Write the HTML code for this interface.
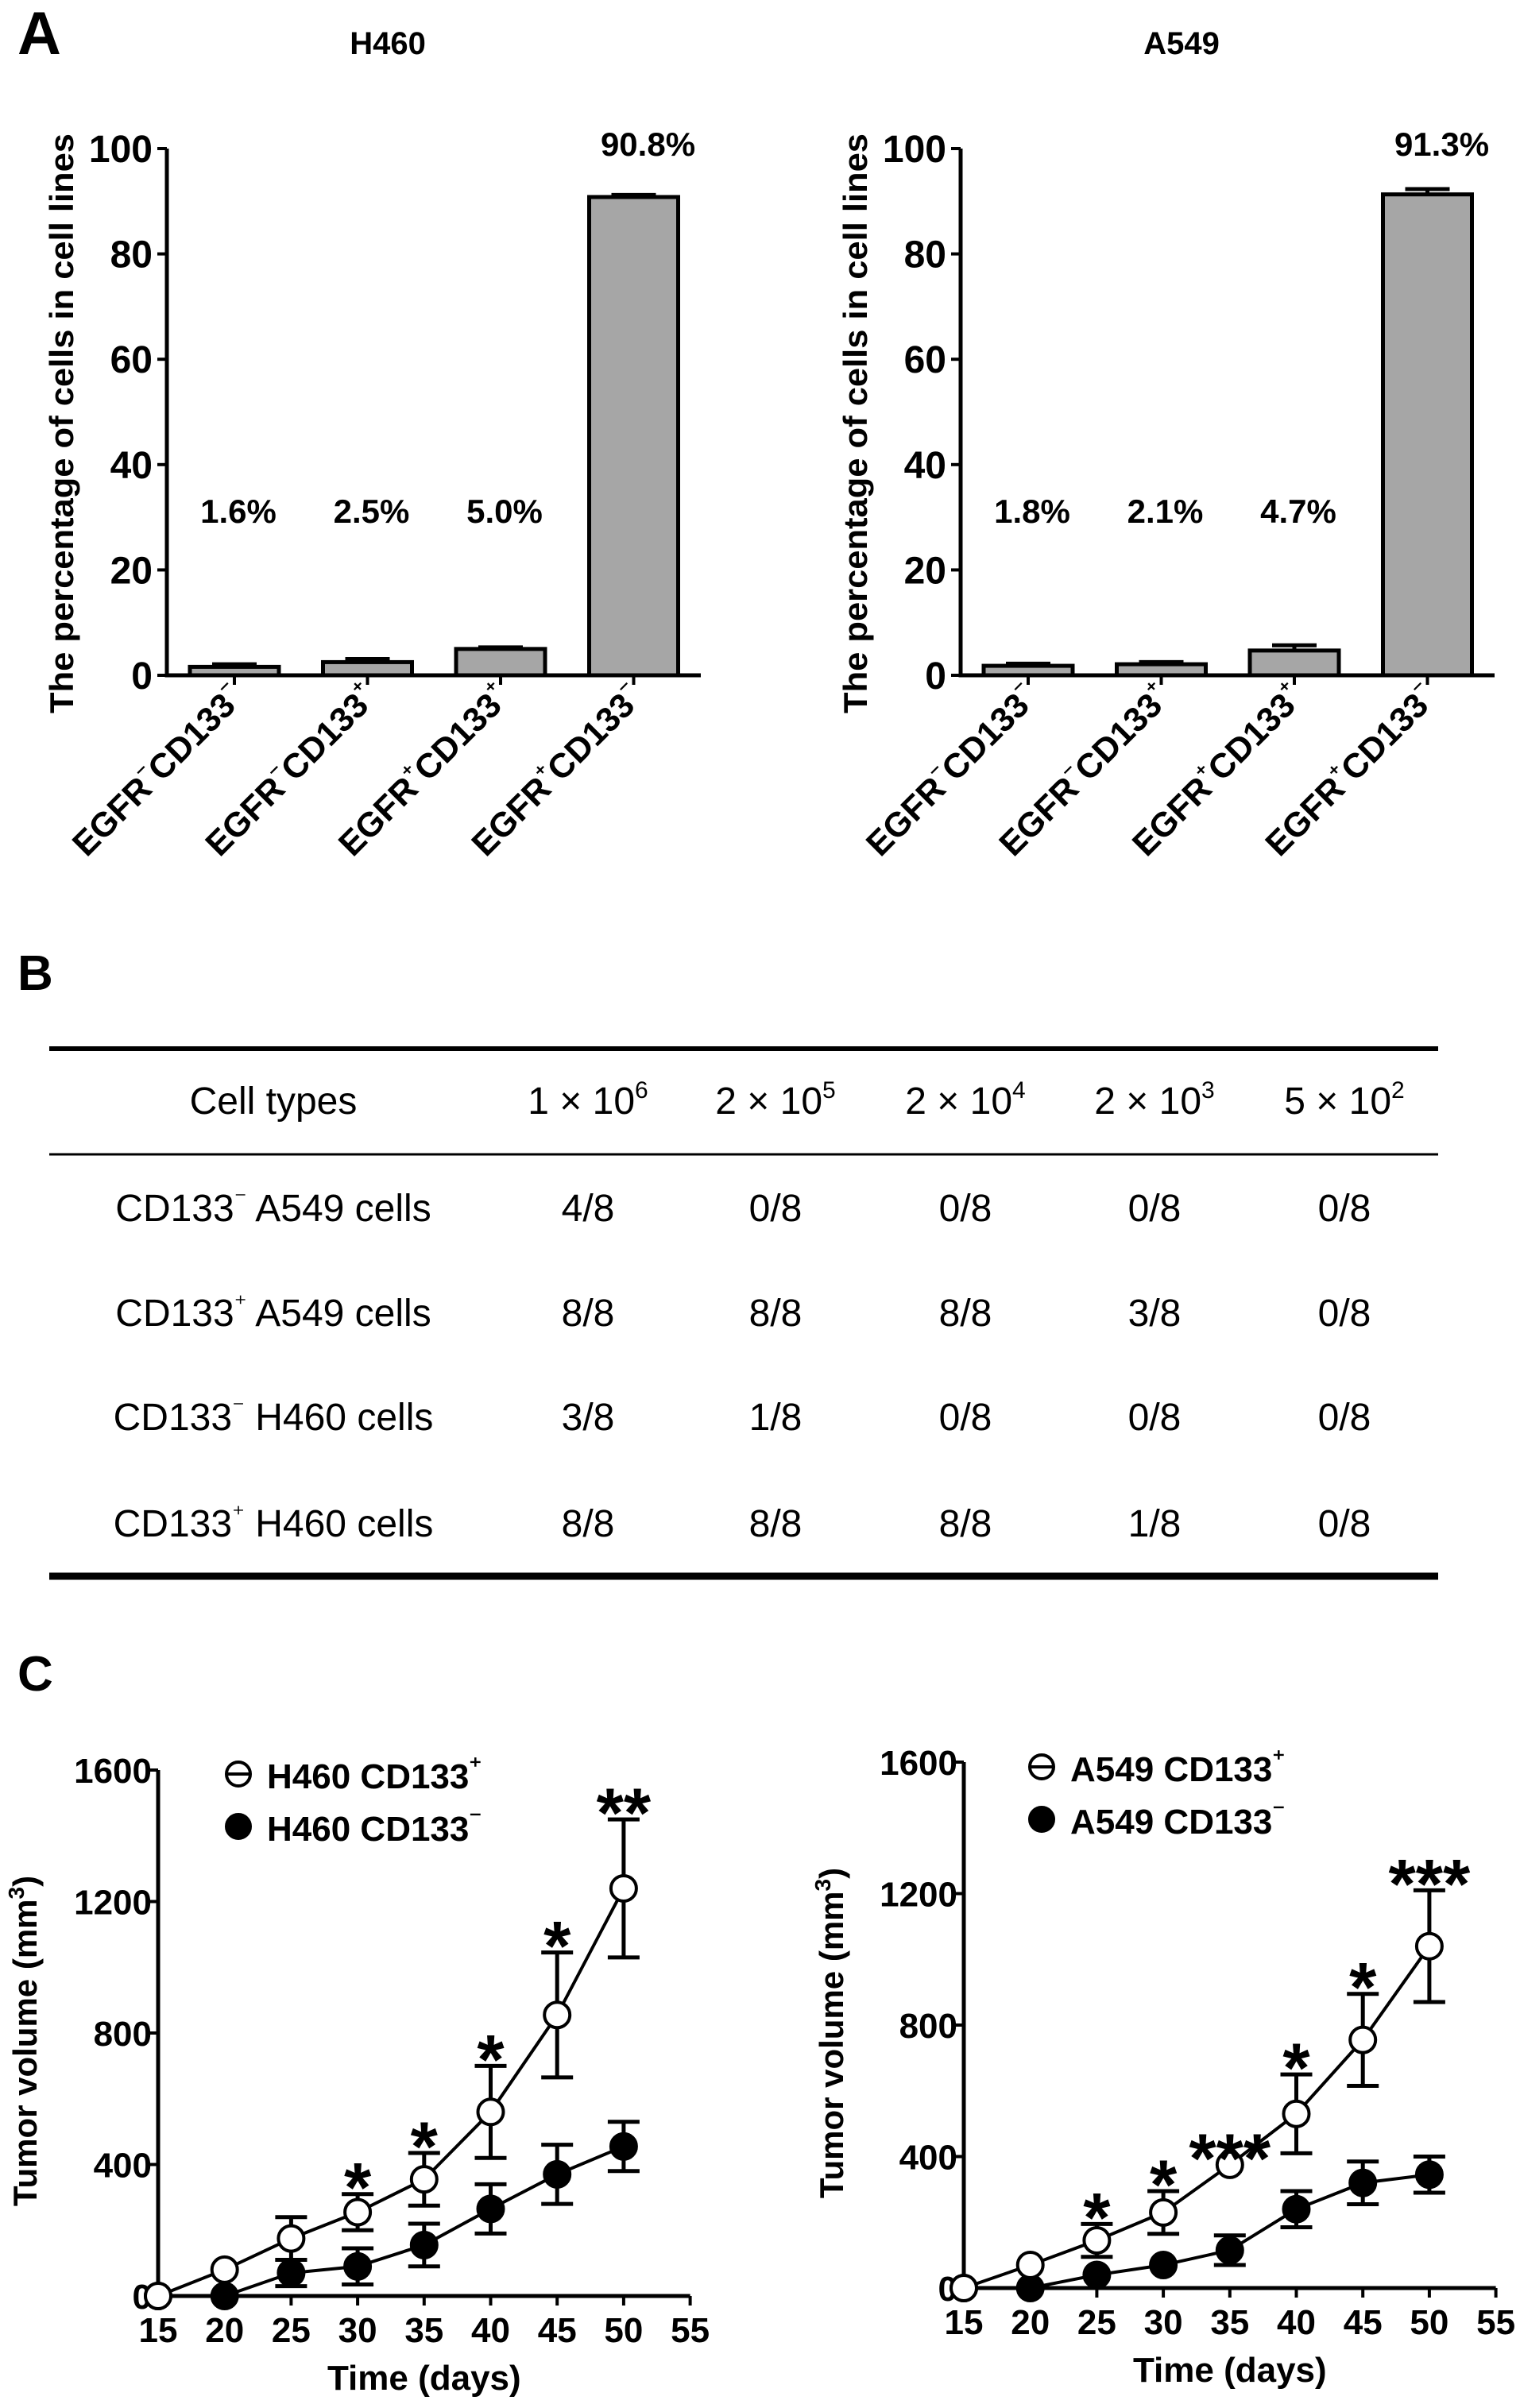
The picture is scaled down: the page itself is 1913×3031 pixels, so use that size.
<!DOCTYPE html>
<html><head><meta charset="utf-8"><style>
html,body{margin:0;padding:0;background:#fff;}
svg{display:block;font-family:"Liberation Sans",Arial,sans-serif;}
</style></head><body>
<svg id="fig" width="1913" height="3031" viewBox="0 0 1913 3031">
<text x="22" y="68" font-size="76" font-weight="bold">A</text>
<text x="22" y="1246" font-size="62" font-weight="bold">B</text>
<text x="22" y="2128" font-size="62" font-weight="bold">C</text>
<g id="table" font-size="48">
<line x1="62" y1="1320" x2="1810" y2="1320" stroke="#000" stroke-width="6"/>
<line x1="62" y1="1453" x2="1810" y2="1453" stroke="#000" stroke-width="3"/>
<line x1="62" y1="1984" x2="1810" y2="1984" stroke="#000" stroke-width="9"/>
</g>
<g id="barsH"></g>
<g id="barsA"></g>
<g id="lineH"></g>
<g id="lineA"></g>
</svg>
<script>
const NS="http://www.w3.org/2000/svg";
const barCategories=[["EGFR","⁻","CD133","⁻"],["EGFR","⁻","CD133","⁺"],["EGFR","⁺","CD133","⁺"],["EGFR","⁺","CD133","⁻"]];
const h460Pct=[1.6,2.5,5.0,90.8];
const h460PctErr=[0.5,0.6,0.3,0.4];
const h460PctLabels=["1.6%","2.5%","5.0%","90.8%"];
const a549Pct=[1.8,2.1,4.7,91.3];
const a549PctErr=[0.4,0.4,1.0,1.0];
const a549PctLabels=["1.8%","2.1%","4.7%","91.3%"];
const pctTicks=[0,20,40,60,80,100];

const tableHeader=["Cell types",["1 × 10","6"],["2 × 10","5"],["2 × 10","4"],["2 × 10","3"],["5 × 10","2"]];
const tableRowNames=[["CD133","⁻"," A549 cells"],["CD133","⁺"," A549 cells"],["CD133","⁻"," H460 cells"],["CD133","⁺"," H460 cells"]];
const tableValues=[["4/8","0/8","0/8","0/8","0/8"],["8/8","8/8","8/8","3/8","0/8"],["3/8","1/8","0/8","0/8","0/8"],["8/8","8/8","8/8","1/8","0/8"]];

const days=[15,20,25,30,35,40,45,50];
const dayTicks=[15,20,25,30,35,40,45,50,55];
const volTicks=[0,400,800,1200,1600];
const h460Pos=[0,80,175,255,355,560,855,1240];
const h460PosErr=[0,0,65,55,80,140,190,210];
const h460Neg=[0,0,70,90,155,265,370,455];
const h460NegErr=[0,0,40,55,65,75,90,75];
const h460Stars=["","","","*","*","*","*","**"];
const a549Pos=[0,70,145,230,375,530,755,1040];
const a549PosErr=[0,0,50,65,0,120,140,170];
const a549Neg=[0,0,40,70,115,240,320,345];
const a549NegErr=[0,0,0,0,45,55,65,55];
const a549Stars=["","","*","*","***","*","*","***"];

function mk(tag,attrs,parent){const e=document.createElementNS(NS,tag);for(const k in attrs)e.setAttribute(k,attrs[k]);parent.appendChild(e);return e;}

// table
const tbl=document.getElementById('table');
const colX=[344,740,976,1215,1453,1692];
const rowY=[1537,1669,1800,1934];
tableHeader.forEach((h,i)=>{
  const t=mk('text',{x:colX[i],y:1402,'text-anchor':'middle'},tbl);
  
  
  if(typeof h==='string'){t.textContent=h;}else{
    const a=mk('tspan',{},t);a.textContent=h[0];
    const b=mk('tspan',{dy:-20,'font-size':30},t);b.textContent=h[1];
  }
});
tableRowNames.forEach((r,i)=>{
  const t=mk('text',{x:colX[0],y:rowY[i],'text-anchor':'middle'},tbl);
  
  
  const a=mk('tspan',{},t);a.textContent=r[0];
  const b=mk('tspan',{dy:-18,'font-size':30},t);b.textContent=r[1];
  const c=mk('tspan',{dy:18},t);c.textContent=r[2];
  tableValues[i].forEach((v,j)=>{
    const tv=mk('text',{x:colX[j+1],y:rowY[i],'text-anchor':'middle'},tbl);
    
    
    tv.textContent=v;
  });
});

function barChart(g,ox,title,vals,errs,labels){
  const y0=850,y100=187,xEnd=ox+672;
  const ys=v=>y0-(v/100)*(y0-y100);
  const xs=i=>ox+85+i*167.5;
  const tt=mk('text',{x:ox+278,y:68,'text-anchor':'middle','font-size':40,'font-weight':'bold'},g);
  
  
  tt.textContent=title;
  const yt=mk('text',{x:0,y:0,'text-anchor':'middle','font-size':42,'font-weight':'bold',transform:`translate(${ox-118},533) rotate(-90)`,textLength:730,lengthAdjust:'spacingAndGlyphs'},g);
  
  
  yt.textContent="The percentage of cells in cell lines";
  pctTicks.forEach(v=>{
    const l=mk('line',{x1:ox-12,x2:ox,y1:ys(v),y2:ys(v),stroke:'#000','stroke-width':4},g);
    
    
    const t=mk('text',{x:ox-18,y:ys(v)+17,'text-anchor':'end','font-size':48,'font-weight':'bold'},g);
    
    
    t.textContent=v;
  });
  vals.forEach((v,i)=>{
    const cx=xs(i);
    const r=mk('rect',{x:cx-56,y:ys(v),width:112,height:y0-ys(v),fill:'#a6a6a6',stroke:'#000','stroke-width':5},g);
    
    
    const e=mk('path',{d:`M${cx} ${ys(v)}V${ys(v+errs[i])}M${cx-28} ${ys(v+errs[i])}H${cx+28}`,stroke:'#000','stroke-width':5,fill:'none'},g);
    
    
    const tk=mk('line',{x1:cx,x2:cx,y1:y0,y2:y0+12,stroke:'#000','stroke-width':4},g);
    
    
    const lt=mk('text',{x:cx+(i==3?18:5),y:v>50?196:658,'text-anchor':'middle','font-size':42,'font-weight':'bold'},g);
    
    
    lt.textContent=labels[i];
    const cl=mk('text',{x:0,y:0,'text-anchor':'end','font-size':43,'font-weight':'bold',transform:`translate(${cx+14},${y0+30}) rotate(-45)`},g);
    
    
    const c=barCategories[i];
    const a=mk('tspan',{},cl);a.textContent=c[0];
    const b=mk('tspan',{dy:-16,'font-size':28},cl);b.textContent=c[1];
    const d=mk('tspan',{dy:16},cl);d.textContent=c[2];
    const f=mk('tspan',{dy:-16,'font-size':28},cl);f.textContent=c[3];
  });
  const ax=mk('path',{d:`M${ox} ${y100}V${y0}H${xEnd}`,stroke:'#000','stroke-width':5,fill:'none'},g);
  
  
}
barChart(document.getElementById('barsH'),210,"H460",h460Pct,h460PctErr,h460PctLabels);
barChart(document.getElementById('barsA'),1209,"A549",a549Pct,a549PctErr,a549PctLabels);

function lineChart(g,ox,y0,y1600,name,pos,posE,neg,negE,stars,legX,legY,titleX){
  const dx=83.7;
  const xs=d=>ox+(d-15)/5*dx;
  const ys=v=>y0-v/1600*(y0-y1600);
  const xEnd=xs(55);
  const yt=mk('text',{x:0,y:0,'text-anchor':'middle','font-size':42,'font-weight':'bold',transform:`translate(${titleX},${(y0+y1600)/2+10}) rotate(-90)`},g);
  
  
  const a=mk('tspan',{},yt);a.textContent="Tumor volume (mm";
  const b=mk('tspan',{dy:-16,'font-size':28},yt);b.textContent="3";
  const c=mk('tspan',{dy:16},yt);c.textContent=")";
  const xt=mk('text',{x:(ox+xEnd)/2,y:y0+118,'text-anchor':'middle','font-size':44,'font-weight':'bold'},g);
  
  
  xt.textContent="Time (days)";
  volTicks.forEach(v=>{
    const l=mk('line',{x1:ox-10,x2:ox,y1:ys(v),y2:ys(v),stroke:'#000','stroke-width':4},g);
    
    
    const t=mk('text',{x:ox-8,y:ys(v)+16,'text-anchor':'end','font-size':44,'font-weight':'bold'},g);
    
    
    t.textContent=v;
  });
  dayTicks.forEach(d=>{
    const l=mk('line',{x1:xs(d),x2:xs(d),y1:y0,y2:y0+12,stroke:'#000','stroke-width':4},g);
    
    
    const t=mk('text',{x:xs(d),y:y0+58,'text-anchor':'middle','font-size':44,'font-weight':'bold'},g);
    
    
    t.textContent=d;
  });
  const ax=mk('path',{d:`M${ox} ${y1600}V${y0}H${xEnd}`,stroke:'#000','stroke-width':5,fill:'none'},g);
  
  
  function series(vals,errs,filled,sname){
    const ln=mk('polyline',{points:days.map((d,i)=>xs(d)+','+ys(vals[i])).join(' '),fill:'none',stroke:'#000','stroke-width':4},g);
    
    
    days.forEach((d,i)=>{
      if(errs[i]>0){
        const e=mk('path',{d:`M${xs(d)} ${ys(vals[i]-errs[i])}V${ys(vals[i]+errs[i])}M${xs(d)-20} ${ys(vals[i]+errs[i])}H${xs(d)+20}M${xs(d)-20} ${ys(vals[i]-errs[i])}H${xs(d)+20}`,stroke:'#000','stroke-width':5,fill:'none'},g);
        
        
      }
      const p=mk('circle',{cx:xs(d),cy:ys(vals[i]),r:16,fill:filled?'#000':'#fff',stroke:'#000','stroke-width':4},g);
      
      
    });
  }
  series(neg,negE,true,'cd133-negative');
  series(pos,posE,false,'cd133-positive');
  days.forEach((d,i)=>{
    if(!stars[i])return;
    const top=ys(pos[i]+posE[i])-18;
    const t=mk('text',{x:xs(d),y:top+40,'text-anchor':'middle','font-size':88,'font-weight':'bold'},g);
    
    
    t.textContent=stars[i];
  });
  [[false,'⁺',legY],[true,'⁻',legY+66]].forEach(([f,s,y])=>{
    const c=mk('circle',{cx:legX,cy:y,r:15,fill:f?'#000':'#fff',stroke:'#000','stroke-width':4},g);
    
    
    if(!f){const l=mk('line',{x1:legX-14,x2:legX+14,y1:y,y2:y,stroke:'#000','stroke-width':4},g);
      
      }
    const t=mk('text',{x:legX+36,y:y+18,'font-size':44,'font-weight':'bold'},g);
    
    
    const a2=mk('tspan',{},t);a2.textContent=name+" CD133";
    const b2=mk('tspan',{dy:-18,'font-size':30},t);b2.textContent=s;
  });
}
lineChart(document.getElementById('lineH'),199,2890,2228,"H460",h460Pos,h460PosErr,h460Neg,h460NegErr,h460Stars,300,2233,46);
lineChart(document.getElementById('lineA'),1213,2880,2218,"A549",a549Pos,a549PosErr,a549Neg,a549NegErr,a549Stars,1311,2224,1061);
</script>
</body></html>
